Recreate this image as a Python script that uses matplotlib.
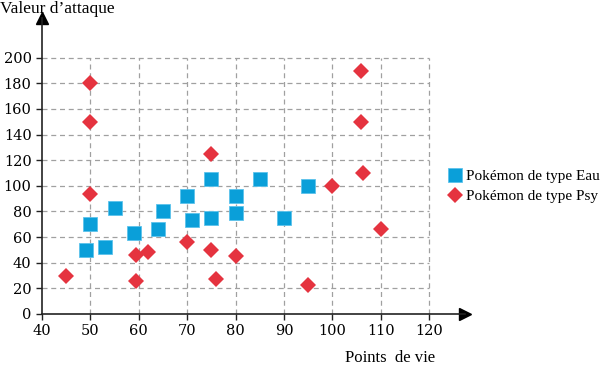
import matplotlib
matplotlib.use("Agg")
import matplotlib.pyplot as plt

# Pokémon de type Eau
eau_pv = [49, 50, 53, 55, 59, 64, 65, 70, 71, 75, 75, 80, 80, 85, 90, 95]
eau_att = [50, 70, 52, 83, 63, 66, 80, 92, 73, 105, 75, 92, 79, 105, 75, 100]

# Pokémon de type Psy
psy_pv = [45, 50, 50, 50, 59.5, 59.5, 62, 70, 75, 75, 76, 80, 95, 100, 106, 106, 106.3, 110]
psy_att = [30, 180, 150, 94, 46, 26, 48, 56, 125, 50, 27, 45, 23, 100, 190, 150, 110, 66]

xticks = [40, 50, 60, 70, 80, 90, 100, 110, 120]
yticks = [0, 20, 40, 60, 80, 100, 120, 140, 160, 180, 200]

blue = "#0a9fd9"
red = "#e5333f"

plt.rcParams["font.family"] = ["Liberation Serif", "DejaVu Serif"]

fig = plt.figure(figsize=(6, 3.7), dpi=100)
ax = fig.add_axes([0.07, 0.1514, 0.705, 0.80])

ax.set_xlim(40, 127.4)
ax.set_ylim(0, 231)

# grid limited to the tick range
ax.hlines(yticks[1:], 40, 120, colors="#a0a0a0", linestyles=(0, (4, 3)), linewidth=0.9, zorder=1)
ax.vlines(xticks[1:], 0, 200, colors="#a0a0a0", linestyles=(0, (4, 3)), linewidth=0.9, zorder=1)

ax.plot(eau_pv, eau_att, "s", color=blue, markersize=9.4, markeredgecolor="#5cc3ec",
        markeredgewidth=0.6, linestyle="none", label="Pokémon de type Eau", zorder=3)
ax.plot(psy_pv, psy_att, "D", color=red, markersize=8.6, markeredgewidth=0,
        linestyle="none", label="Pokémon de type Psy", zorder=3)

for side in ["top", "right"]:
    ax.spines[side].set_visible(False)
for side in ["left", "bottom"]:
    ax.spines[side].set_color("#222222")
    ax.spines[side].set_linewidth(1.2)

# axis arrows
ax.plot(1, 0, ">", color="black", markersize=9, transform=ax.transAxes, clip_on=False)
ax.plot(0, 1, "^", color="black", markersize=9, transform=ax.transAxes, clip_on=False)

ax.set_xticks(xticks)
ax.set_yticks(yticks)
ax.tick_params(axis="both", length=4, color="#222222", width=1)
for lab in ax.get_xticklabels() + ax.get_yticklabels():
    lab.set_fontfamily("DejaVu Serif")
    lab.set_fontsize(10.5)

fig.text(0.0, 0.975, "Valeur d\u2019attaque", fontsize=12.5, ha="left", va="center")
fig.text(0.575, 0.032, "Points  de vie", fontsize=12, ha="left", va="center")

fig.legend(*ax.get_legend_handles_labels(), loc="center left", bbox_to_anchor=(0.745, 0.496),
           frameon=False, fontsize=11, handletextpad=0.25, handlelength=1.0,
           labelspacing=0.4, borderpad=0, borderaxespad=0)

fig.savefig("out.png", dpi=100)
